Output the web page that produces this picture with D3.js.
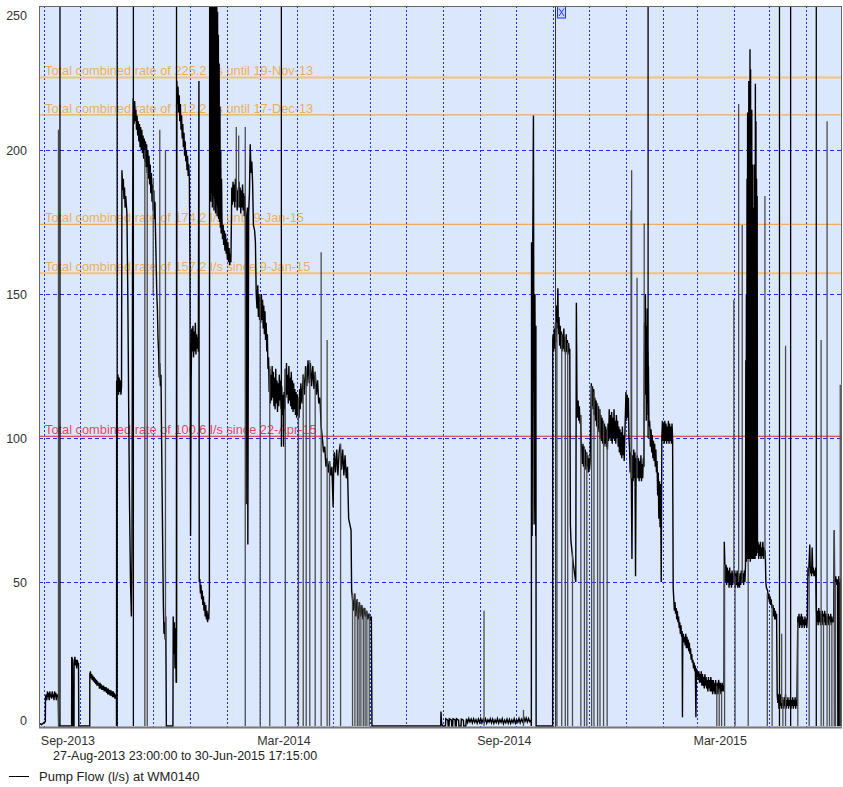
<!DOCTYPE html>
<html lang="en">
<head>
<meta charset="UTF-8">
<title>Pump Flow (l/s) at WM0140</title>
<script src="https://d3js.org/d3.v7.min.js"></script>
<style>
    body { margin: 0; background: #fff; }
    svg text { font-family: "Liberation Sans", Arial, sans-serif; font-size: 13px; }
    svg text.xlab, svg text.ylab, svg text.range { font-size: 12.5px; }
    svg text.rate-label { font-size: 12.8px; }
</style>
</head>
<body>
<div id="chart"></div>
<script>
// time span of the record and the text shown under the axis
var timeRange = ["2013-08-27 23:00", "2015-06-30 17:15"];
var rangeLabel = "27-Aug-2013 23:00:00 to 30-Jun-2015 17:15:00";
var seriesName = "Pump Flow (l/s) at WM0140";

var xTickDates = ["2013-09-01 00", "2014-03-01 00", "2014-09-01 00", "2015-03-01 00"];
var xTickLabels = ["Sep-2013", "Mar-2014", "Sep-2014", "Mar-2015"];
var yTicks = [0, 50, 100, 150, 200, 250];
var yGrid = [50, 100, 150, 200];

// consented rates
var rateValues = [225.2, 212.2, 174.2, 157.2, 100.6];
var rateLabels = [
    "Total combined rate of 225.2 l/s until 19-Nov-13",
    "Total combined rate of 212.2 l/s until 17-Dec-13",
    "Total combined rate of 174.2 l/s until 9-Jan-15",
    "Total combined rate of 157.2 l/s since 9-Jan-15",
    "Total combined rate of 100.6 l/s since 22-Apr-15"
];

var eventDates = ["2014-11-02 23"];

// pump flow (l/s)
var flow2013 = [
["2013-08-27 23",1],["2013-08-30 00",0.5],["2013-09-02 06",1.5],["2013-09-02 10",10],
["2013-09-03 00",11],["2013-09-03 12",9],["2013-09-04 00",12],["2013-09-04 12",10],["2013-09-05 00",11.5],["2013-09-05 12",9],
["2013-09-06 00",12],["2013-09-06 12",10],["2013-09-07 00",11],["2013-09-07 12",9.5],["2013-09-08 00",12],["2013-09-08 12",10],
["2013-09-09 00",11],["2013-09-09 12",9],["2013-09-10 00",12],["2013-09-10 12",10],["2013-09-11 00",11.5],["2013-09-11 12",9],
["2013-09-12 00",11],["2013-09-12 12",10],["2013-09-13 00",11],["2013-09-13 12",0],
["2013-09-24 06",0],["2013-09-24 08",24],["2013-09-25 00",23],["2013-09-25 08",0],["2013-09-26 06",0],["2013-09-26 08",22],
["2013-09-27 00",24],["2013-09-27 12",21],["2013-09-28 00",23],["2013-09-28 12",20],["2013-09-29 00",23],["2013-09-29 12",21],
["2013-09-30 00",22],["2013-09-30 06",0],
["2013-10-09 10",0],["2013-10-09 12",18],["2013-10-10 00",19],["2013-10-10 12",16.5],["2013-10-11 00",18],["2013-10-11 12",16],
["2013-10-12 00",17.5],["2013-10-12 12",15.5],["2013-10-13 00",17],["2013-10-13 12",15],["2013-10-14 00",16.5],["2013-10-14 12",14.5],
["2013-10-15 00",16],["2013-10-15 12",14],["2013-10-16 00",15.5],["2013-10-16 12",14],["2013-10-17 00",15],["2013-10-17 12",13],
["2013-10-18 00",15],["2013-10-18 12",13],["2013-10-19 00",14.5],["2013-10-19 12",12.5],["2013-10-20 00",14],["2013-10-20 12",12.5],
["2013-10-21 00",14],["2013-10-21 12",12],["2013-10-22 00",13.5],["2013-10-22 12",12],["2013-10-23 00",13.5],["2013-10-23 12",11.5],
["2013-10-24 00",13],["2013-10-24 12",11],["2013-10-25 00",13],["2013-10-25 12",11],["2013-10-26 00",12.5],["2013-10-26 12",10.5],
["2013-10-27 00",12.5],["2013-10-27 12",10.5],["2013-10-28 00",12],["2013-10-28 12",10],["2013-10-29 00",12],["2013-10-29 12",10],
["2013-10-30 00",11.5],["2013-10-30 12",9.5],["2013-10-31 00",11],["2013-10-31 18",10],["2013-10-31 20",0],["2013-10-31 22",120],
["2013-11-01 12",116],["2013-11-02 00",122],["2013-11-02 12",115],["2013-11-03 00",121],["2013-11-03 12",116],["2013-11-04 00",120],
["2013-11-04 12",115],["2013-11-05 00",118],["2013-11-05 08",193],["2013-11-06 00",186],["2013-11-06 12",190],["2013-11-07 00",183],
["2013-11-07 12",187],["2013-11-08 00",180],["2013-11-08 12",184],["2013-11-09 12",178],["2013-11-10 06",150],["2013-11-11 00",110],
["2013-11-11 18",75],["2013-11-12 12",50],["2013-11-13 06",38],["2013-11-13 18",60],["2013-11-14 06",170],["2013-11-14 18",218],
["2013-11-15 00",216],["2013-11-15 12",209],["2013-11-16 00",217],["2013-11-16 12",210],["2013-11-17 00",214],["2013-11-17 12",207],
["2013-11-18 00",212],["2013-11-18 12",205],["2013-11-19 00",210],["2013-11-19 12",203],["2013-11-20 00",209],["2013-11-20 12",201],
["2013-11-21 00",208],["2013-11-21 12",200],["2013-11-22 00",207],["2013-11-22 12",199],["2013-11-23 00",205],["2013-11-23 12",197],
["2013-11-24 00",204],["2013-11-24 12",196],["2013-11-25 00",203],["2013-11-25 12",194],["2013-11-26 00",202],["2013-11-26 12",192],
["2013-11-27 00",200],["2013-11-27 12",190],["2013-11-28 00",198],["2013-11-28 12",188],["2013-11-29 00",195],["2013-11-29 12",185],
["2013-11-30 00",192],["2013-11-30 12",182],["2013-12-01 00",188],["2013-12-01 12",179],["2013-12-02 00",186],["2013-12-02 12",176],
["2013-12-03 00",182],["2013-12-03 12",170],["2013-12-04 00",160],["2013-12-04 12",150],["2013-12-05 00",145],["2013-12-05 12",135],
["2013-12-06 00",130],["2013-12-06 12",121],["2013-12-07 00",126],["2013-12-07 12",118],["2013-12-08 00",122],["2013-12-08 12",100],
["2013-12-09 00",80],["2013-12-09 12",60],["2013-12-10 00",42],["2013-12-10 12",32],["2013-12-11 00",36],["2013-12-11 12",30],
["2013-12-12 00",38],["2013-12-12 12",0],["2013-12-18 00",0],["2013-12-18 06",38],["2013-12-18 18",25],["2013-12-19 06",36],
["2013-12-19 18",20],["2013-12-20 06",34],["2013-12-20 18",15],["2013-12-21 00",38],["2013-12-21 06",224],["2013-12-21 18",216],
["2013-12-22 06",222],["2013-12-22 18",213],["2013-12-23 06",219],["2013-12-23 18",210],["2013-12-24 06",216],["2013-12-24 18",207],
["2013-12-25 06",212],["2013-12-25 18",204],["2013-12-26 06",209],["2013-12-26 18",201],["2013-12-27 06",206],["2013-12-27 18",198],
["2013-12-28 06",203],["2013-12-28 18",196],["2013-12-29 06",200],["2013-12-29 18",193],["2013-12-30 06",198],["2013-12-30 18",191],
["2013-12-31 06",195],["2013-12-31 18",190]
];

var flow2014 = [
["2014-01-01 06",160],["2014-01-01 18",66],["2014-01-02 06",120],["2014-01-02 18",138],["2014-01-03 06",130],["2014-01-03 18",139],
["2014-01-04 06",128],["2014-01-04 18",137],["2014-01-05 06",130],["2014-01-05 18",140],["2014-01-06 06",129],["2014-01-06 18",136],
["2014-01-07 06",131],["2014-01-07 18",135],["2014-01-08 06",130],["2014-01-08 18",224],["2014-01-09 00",50],["2014-01-09 12",51],
["2014-01-10 00",46],["2014-01-10 12",49],["2014-01-11 00",44],["2014-01-11 12",47],["2014-01-12 00",42],["2014-01-12 12",45],
["2014-01-13 00",40],["2014-01-13 12",43],["2014-01-14 00",38],["2014-01-14 12",42],["2014-01-15 00",37],["2014-01-15 12",40],
["2014-01-16 00",36],["2014-01-16 12",39],["2014-01-17 00",37],["2014-01-17 12",45],
["2014-01-17 18",258],["2014-01-18 00",186],["2014-01-18 08",258],["2014-01-18 16",182],["2014-01-19 00",257],["2014-01-19 08",185],
["2014-01-19 16",258],["2014-01-20 00",180],["2014-01-20 08",256],["2014-01-20 16",184],["2014-01-21 00",257],["2014-01-21 08",179],
["2014-01-21 16",255],["2014-01-22 00",183],["2014-01-22 08",256],["2014-01-22 16",178],["2014-01-23 00",254],["2014-01-23 08",181],
["2014-01-23 16",252],["2014-01-24 00",177],["2014-01-24 08",248],["2014-01-24 16",180],["2014-01-25 00",240],["2014-01-25 08",176],
["2014-01-25 16",230],["2014-01-26 00",175],["2014-01-26 08",215],["2014-01-26 16",173],["2014-01-27 00",200],["2014-01-27 08",171],
["2014-01-27 16",190],["2014-01-28 00",176],["2014-01-28 12",169],["2014-01-29 00",174],["2014-01-29 12",167],["2014-01-30 00",172],
["2014-01-30 12",165],["2014-01-31 00",171],["2014-01-31 12",164],["2014-02-01 00",169],["2014-02-01 12",162],["2014-02-02 00",168],
["2014-02-02 12",161],["2014-02-03 00",166],["2014-02-03 12",160],["2014-02-04 00",164],["2014-02-04 12",161],
["2014-02-05 06",187],["2014-02-05 18",181],["2014-02-06 06",189],["2014-02-06 18",182],["2014-02-07 06",188],["2014-02-07 18",180],
["2014-02-08 06",190],["2014-02-08 18",182],["2014-02-09 06",187],["2014-02-09 18",179],["2014-02-10 06",186],["2014-02-10 18",181],
["2014-02-11 06",189],["2014-02-11 18",180],["2014-02-12 06",187],["2014-02-12 18",178],["2014-02-13 06",186],["2014-02-13 18",180],
["2014-02-14 06",188],["2014-02-14 18",179],["2014-02-15 06",185],["2014-02-15 18",177],["2014-02-16 06",184],["2014-02-16 18",176],
["2014-02-17 06",77],["2014-02-17 16",176],["2014-02-18 08",180],["2014-02-18 16",63],["2014-02-19 08",178],["2014-02-20 00",185],
["2014-02-20 16",202],["2014-02-21 08",192],["2014-02-22 00",196],["2014-02-22 16",188],["2014-02-23 08",174],["2014-02-24 08",172],
["2014-02-25 00",168],["2014-02-25 16",150],["2014-02-26 08",145],["2014-02-27 00",153],["2014-02-27 12",142],["2014-02-28 00",150],
["2014-02-28 12",141],["2014-03-01 00",149],["2014-03-01 12",140],["2014-03-02 00",150],["2014-03-02 12",141],["2014-03-03 00",148],
["2014-03-03 12",138],["2014-03-04 00",146],["2014-03-04 12",136],["2014-03-05 00",144],["2014-03-05 12",134],["2014-03-06 00",140],
["2014-03-06 12",130],["2014-03-07 00",136],["2014-03-07 12",124],["2014-03-08 00",128],["2014-03-08 12",116],["2014-03-09 00",124],
["2014-03-09 12",112],["2014-03-10 00",122],["2014-03-10 12",113],["2014-03-11 00",125],["2014-03-11 12",114],["2014-03-12 00",123],
["2014-03-12 12",111],["2014-03-13 00",121],["2014-03-13 12",110],["2014-03-14 00",124],["2014-03-14 12",112],["2014-03-15 00",120],
["2014-03-15 12",109],["2014-03-16 00",119],["2014-03-16 12",111],["2014-03-17 00",122],["2014-03-17 12",113],["2014-03-18 00",120],
["2014-03-18 12",110],["2014-03-19 00",118],["2014-03-19 12",108],["2014-03-20 00",115],["2014-03-20 12",97],["2014-03-21 00",116],
["2014-03-21 12",110],["2014-03-22 00",124],["2014-03-22 12",114],["2014-03-23 00",126],["2014-03-23 12",115],["2014-03-24 00",122],
["2014-03-24 12",112],["2014-03-25 00",125],["2014-03-25 12",113],["2014-03-26 00",121],["2014-03-26 12",111],["2014-03-27 00",123],
["2014-03-27 12",110],["2014-03-28 00",120],["2014-03-28 12",109],["2014-03-29 00",119],["2014-03-29 12",110],["2014-03-30 00",117],
["2014-03-30 12",108],["2014-03-31 00",116],["2014-03-31 12",107],["2014-04-01 00",115],["2014-04-01 12",108],["2014-04-02 00",114],
["2014-04-02 12",107],["2014-04-03 00",117],["2014-04-03 12",110],["2014-04-04 00",119],["2014-04-05 00",112],["2014-04-06 00",122],
["2014-04-07 00",115],["2014-04-08 00",125],["2014-04-09 00",118],["2014-04-10 00",127],["2014-04-11 00",119],["2014-04-12 00",126],
["2014-04-13 00",118],["2014-04-14 00",125],["2014-04-15 00",117],["2014-04-16 00",123],["2014-04-17 00",115],["2014-04-18 00",120],
["2014-04-19 00",112],["2014-04-20 00",114],["2014-04-21 00",104],["2014-04-22 00",100],["2014-04-23 00",95],["2014-04-24 00",97],
["2014-04-25 00",90],["2014-04-26 00",93],["2014-04-27 00",88],["2014-04-28 00",92],["2014-04-29 00",87],["2014-04-30 00",90],
["2014-05-01 00",76],["2014-05-01 12",90],["2014-05-02 00",95],["2014-05-03 00",88],["2014-05-04 00",96],["2014-05-05 00",87],
["2014-05-06 00",95],["2014-05-07 00",98],["2014-05-08 00",89],["2014-05-09 00",96],["2014-05-10 00",87],["2014-05-11 00",94],
["2014-05-12 00",86],["2014-05-13 00",90],["2014-05-14 00",72],["2014-05-15 00",70],["2014-05-16 00",68],["2014-05-16 12",47],
["2014-05-17 00",45],["2014-05-18 00",40],["2014-05-19 00",46],["2014-05-20 00",38],["2014-05-21 00",44],["2014-05-22 00",37],
["2014-05-23 00",43],["2014-05-24 00",38],["2014-05-25 00",42],["2014-05-26 00",37],["2014-05-27 00",41],["2014-05-28 00",38],
["2014-05-29 00",40],["2014-05-30 00",37],["2014-05-31 00",39],["2014-06-01 00",37],["2014-06-02 00",38],["2014-06-02 12",0]
];

var flowLow = [
["2014-07-30 00",0],["2014-07-30 06",5],["2014-07-30 18",1],["2014-07-31 12",0],["2014-08-03 00",0],["2014-08-03 06",2.5],
["2014-08-05 00",2],["2014-08-05 06",0],["2014-08-06 00",0],["2014-08-06 06",2.5],["2014-08-08 00",2],["2014-08-08 06",0],
["2014-08-09 00",0],["2014-08-09 06",2.5],["2014-08-11 00",2.2],["2014-08-11 06",0],["2014-08-12 00",0],["2014-08-12 06",2.5],
["2014-08-14 00",2],["2014-08-14 06",0],["2014-08-16 00",0],["2014-08-16 06",2.4],["2014-08-18 00",2],["2014-08-18 06",0],
["2014-08-20 00",0],["2014-08-20 12",2.5],["2014-08-21 12",1.2],["2014-08-22 12",2.6],["2014-08-23 12",1.4],["2014-08-24 12",2.4],
["2014-08-25 12",1.1],["2014-08-26 12",2.5],["2014-08-27 12",1.3],["2014-08-28 12",2.2],["2014-08-29 12",1.0],["2014-08-30 12",2.4],
["2014-08-31 12",1.2],["2014-09-01 12",2.6],["2014-09-02 12",1.1],["2014-09-03 12",2.3],["2014-09-04 12",1.3],["2014-09-05 12",2.5],
["2014-09-06 12",1.0],["2014-09-07 12",2.2],["2014-09-08 12",1.4],["2014-09-09 12",2.5],["2014-09-10 12",1.1],["2014-09-11 12",2.4],
["2014-09-12 12",0.9],["2014-09-13 12",2.1],["2014-09-14 12",1.2],["2014-09-15 12",2.6],["2014-09-16 12",1.0],["2014-09-17 12",2.2],
["2014-09-18 12",1.3],["2014-09-19 12",2.5],["2014-09-20 12",0.8],["2014-09-21 12",2.0],["2014-09-22 12",1.1],["2014-09-23 12",2.4],
["2014-09-24 12",1.0],["2014-09-25 12",2.3],["2014-09-26 12",0.9],["2014-09-27 12",2.1],["2014-09-28 12",1.2],["2014-09-29 12",2.5],
["2014-09-30 12",1.0],["2014-10-01 12",2.2],["2014-10-02 12",1.3],["2014-10-03 12",2.6],["2014-10-04 12",1.1],["2014-10-05 12",2.4],
["2014-10-06 12",1.5],["2014-10-07 12",3.0],["2014-10-08 12",1.6],["2014-10-09 12",2.8],["2014-10-10 12",1.4],["2014-10-11 12",2.6],
["2014-10-12 12",1.5],["2014-10-13 12",2.0],["2014-10-13 20",0]
];

var flowLate2014 = [
["2014-10-14 00",168],["2014-10-14 12",66],["2014-10-15 00",165],["2014-10-15 14",212],["2014-10-16 04",70],["2014-10-16 20",150],
["2014-10-17 12",66],["2014-10-17 16",139],["2014-10-17 20",0],["2014-10-31 16",0],["2014-10-31 18",134],
["2014-11-01 00",136],["2014-11-01 12",130],["2014-11-02 00",138],["2014-11-02 12",131],["2014-11-03 00",140],["2014-11-03 12",133],
["2014-11-04 00",146],["2014-11-04 12",138],["2014-11-05 00",152],["2014-11-05 12",136],["2014-11-06 00",142],["2014-11-06 12",132],
["2014-11-07 00",139],["2014-11-07 12",131],["2014-11-08 00",137],["2014-11-08 12",130],["2014-11-09 00",136],["2014-11-09 12",131],
["2014-11-10 00",138],["2014-11-10 12",130],["2014-11-11 00",135],["2014-11-11 12",129],["2014-11-12 00",136],["2014-11-12 12",130],
["2014-11-13 00",134],["2014-11-13 12",129],["2014-11-14 00",133],["2014-11-14 12",130],["2014-11-15 00",131],["2014-11-15 12",70],
["2014-11-16 00",64],["2014-11-17 00",60],["2014-11-18 00",56],["2014-11-19 00",53],["2014-11-20 00",50],["2014-11-20 12",147],
["2014-11-21 00",112],["2014-11-21 12",107],["2014-11-22 00",113],["2014-11-22 12",106],["2014-11-23 00",111],["2014-11-23 12",105],
["2014-11-24 00",108],["2014-11-24 12",98],["2014-11-25 00",96],["2014-11-25 12",91],["2014-11-26 00",98],["2014-11-26 12",90],
["2014-11-27 00",97],["2014-11-27 12",91],["2014-11-28 00",96],["2014-11-28 12",89],["2014-11-29 00",95],["2014-11-29 12",90],
["2014-11-30 00",94],["2014-11-30 12",88],["2014-12-01 00",93],["2014-12-01 12",89],["2014-12-02 00",92],["2014-12-03 00",119],
["2014-12-03 12",111],["2014-12-04 00",118],["2014-12-04 12",110],["2014-12-05 00",117],["2014-12-05 12",108],["2014-12-06 00",114],
["2014-12-06 12",106],["2014-12-07 00",113],["2014-12-07 12",104],["2014-12-08 00",112],["2014-12-08 12",103],["2014-12-09 00",111],
["2014-12-09 12",102],["2014-12-10 00",110],["2014-12-10 12",100],["2014-12-11 00",108],["2014-12-11 12",99],["2014-12-12 00",107],
["2014-12-12 12",98],["2014-12-13 00",106],["2014-12-13 12",97],["2014-12-14 00",105],["2014-12-14 12",98],["2014-12-15 00",104],
["2014-12-15 12",97],["2014-12-16 00",103],["2014-12-16 12",96],["2014-12-17 00",105],["2014-12-17 12",99],["2014-12-18 00",110],
["2014-12-18 12",100],["2014-12-19 00",108],["2014-12-19 12",99],["2014-12-20 00",109],["2014-12-20 12",98],["2014-12-21 00",107],
["2014-12-21 12",100],["2014-12-22 00",110],["2014-12-22 12",99],["2014-12-23 00",106],["2014-12-23 12",98],["2014-12-24 00",108],
["2014-12-24 12",100],["2014-12-25 00",106],["2014-12-25 12",97],["2014-12-26 00",104],["2014-12-26 12",95],["2014-12-27 00",103],
["2014-12-27 12",94],["2014-12-28 00",102],["2014-12-28 12",93],["2014-12-29 00",104],["2014-12-29 12",94],["2014-12-30 00",101],
["2014-12-30 12",92]
];

var flow2015 = [
["2015-01-01 00",116],["2015-01-01 12",106],["2015-01-02 00",115],["2015-01-02 12",107],["2015-01-03 00",114],["2015-01-03 12",100],
["2015-01-04 00",96],["2015-01-04 12",88],["2015-01-05 00",95],["2015-01-05 12",86],["2015-01-06 00",58],["2015-01-06 12",94],
["2015-01-07 00",85],["2015-01-07 12",96],["2015-01-08 00",86],["2015-01-08 12",95],["2015-01-09 00",52],["2015-01-09 12",93],
["2015-01-10 00",87],["2015-01-10 12",94],["2015-01-11 00",86],["2015-01-11 12",93],["2015-01-12 00",85],["2015-01-12 12",92],
["2015-01-13 00",86],["2015-01-13 12",94],["2015-01-14 00",85],["2015-01-14 12",91],["2015-01-15 00",86],["2015-01-15 12",93],
["2015-01-16 00",90],["2015-01-16 12",140],["2015-01-17 00",118],["2015-01-17 06",150],["2015-01-17 12",115],["2015-01-17 18",139],
["2015-01-18 00",106],["2015-01-18 06",135],["2015-01-18 12",112],["2015-01-18 18",145],["2015-01-19 00",116],["2015-01-19 06",130],
["2015-01-19 12",108],["2015-01-19 18",125],["2015-01-20 06",104],["2015-01-20 18",106],["2015-01-21 00",104],["2015-01-21 12",97],
["2015-01-22 00",103],["2015-01-22 12",95],["2015-01-23 00",101],["2015-01-23 12",93],["2015-01-24 00",99],["2015-01-24 12",92],
["2015-01-25 00",98],["2015-01-25 12",90],["2015-01-26 00",96],["2015-01-26 12",88],["2015-01-27 00",92],["2015-01-27 12",80],
["2015-01-28 00",88],["2015-01-28 12",72],["2015-01-29 00",85],["2015-01-29 12",69],["2015-01-30 00",84],["2015-01-30 12",50],
["2015-01-31 00",100],["2015-01-31 12",106],["2015-02-01 00",99],["2015-02-01 12",105],["2015-02-02 00",98],["2015-02-02 12",106],
["2015-02-03 00",99],["2015-02-03 12",105],["2015-02-04 00",98],["2015-02-04 12",104],["2015-02-05 00",99],["2015-02-05 12",106],
["2015-02-06 00",98],["2015-02-06 12",105],["2015-02-07 00",99],["2015-02-07 12",104],["2015-02-08 00",98],["2015-02-08 12",105],
["2015-02-09 00",100],["2015-02-09 12",48],["2015-02-10 00",44],["2015-02-10 12",40],["2015-02-11 00",43],["2015-02-11 12",39],
["2015-02-12 00",41],["2015-02-12 12",37],["2015-02-13 00",40],["2015-02-13 12",36],["2015-02-14 00",38],["2015-02-14 12",34],
["2015-02-15 00",36],["2015-02-15 12",32],["2015-02-16 00",35],["2015-02-16 12",31],["2015-02-17 00",33],["2015-02-17 06",3],
["2015-02-17 12",30],["2015-02-18 00",32],["2015-02-18 12",29],["2015-02-19 00",31],["2015-02-19 12",28],["2015-02-20 00",32],
["2015-02-20 12",27],["2015-02-21 00",31],["2015-02-21 12",27],["2015-02-22 00",30],["2015-02-22 12",26],["2015-02-23 00",29],
["2015-02-23 12",25],["2015-02-24 00",27],["2015-02-24 12",23],["2015-02-25 00",25],["2015-02-25 12",22],["2015-02-26 00",23],
["2015-02-26 12",20],["2015-02-27 00",22],["2015-02-27 12",19],["2015-02-28 00",21],["2015-02-28 12",3],["2015-03-01 00",20],
["2015-03-01 12",17],["2015-03-02 00",19],["2015-03-02 12",16],["2015-03-03 00",19],["2015-03-03 12",15],["2015-03-04 00",18],
["2015-03-04 12",15],["2015-03-05 00",19],["2015-03-05 12",14],["2015-03-06 00",18],["2015-03-06 12",14],["2015-03-07 00",17],
["2015-03-07 12",13],["2015-03-08 00",18],["2015-03-08 12",14],["2015-03-09 00",17],["2015-03-09 12",13],["2015-03-10 00",16],
["2015-03-10 12",12],["2015-03-11 00",17],["2015-03-11 12",13],["2015-03-12 00",16],["2015-03-12 12",12],["2015-03-13 00",17],
["2015-03-13 12",12],["2015-03-14 00",16],["2015-03-14 12",11],["2015-03-15 00",16],["2015-03-15 12",12],["2015-03-16 00",15],
["2015-03-16 12",11],["2015-03-17 00",16],["2015-03-17 12",11],["2015-03-18 12",15],["2015-03-19 00",11],["2015-03-19 12",16],
["2015-03-20 12",12],["2015-03-21 00",15],["2015-03-21 12",11],["2015-03-22 12",15],["2015-03-23 00",12],["2015-03-23 12",14],
["2015-03-24 00",12],["2015-03-24 06",64],["2015-03-24 18",55],["2015-03-25 06",50],["2015-03-25 18",56],["2015-03-26 06",49],
["2015-03-26 18",55],["2015-03-27 06",50],["2015-03-27 18",54],["2015-03-28 06",48],["2015-03-28 18",55],["2015-03-29 06",49],
["2015-03-29 18",53],["2015-03-30 06",48],["2015-03-30 18",54],["2015-03-31 06",49],["2015-03-31 18",53],["2015-04-01 12",50],
["2015-04-02 00",54],["2015-04-02 12",48],["2015-04-03 00",53],["2015-04-03 12",49],["2015-04-04 00",54],["2015-04-04 12",48],
["2015-04-05 12",52],["2015-04-06 00",48],["2015-04-06 12",53],["2015-04-07 00",49],["2015-04-07 12",54],["2015-04-08 12",50],
["2015-04-09 00",53],["2015-04-09 12",49],["2015-04-10 00",54],["2015-04-10 12",50],["2015-04-11 00",56],
["2015-04-11 06",127],["2015-04-11 12",58],["2015-04-11 18",150],["2015-04-12 00",57],["2015-04-12 06",190],["2015-04-12 12",59],
["2015-04-12 18",213],["2015-04-13 00",58],["2015-04-13 06",205],["2015-04-13 12",60],["2015-04-13 18",224],["2015-04-14 00",58],
["2015-04-14 06",218],["2015-04-14 12",59],["2015-04-14 18",235],["2015-04-15 00",57],["2015-04-15 06",228],["2015-04-15 12",60],
["2015-04-15 18",200],["2015-04-16 00",58],["2015-04-16 06",214],["2015-04-16 12",59],["2015-04-16 18",195],["2015-04-17 00",58],
["2015-04-17 06",180],["2015-04-17 12",60],["2015-04-17 18",170],["2015-04-18 00",58],["2015-04-18 06",195],["2015-04-18 12",59],
["2015-04-18 18",185],["2015-04-19 00",58],["2015-04-19 06",223],["2015-04-19 12",60],["2015-04-19 18",210],["2015-04-20 00",59],
["2015-04-20 06",190],["2015-04-20 12",60],["2015-04-20 18",184],["2015-04-21 00",62],
["2015-04-21 12",64],["2015-04-22 00",58],["2015-04-22 12",63],["2015-04-23 00",59],["2015-04-23 12",64],["2015-04-24 00",58],
["2015-04-24 12",62],["2015-04-25 00",59],["2015-04-25 12",64],["2015-04-26 00",58],["2015-04-26 12",62],["2015-04-27 00",59],
["2015-04-27 12",61],["2015-04-28 00",50],["2015-04-28 12",48],["2015-04-29 12",47],["2015-04-30 00",44],["2015-04-30 12",46],
["2015-05-01 00",43],["2015-05-01 12",45],["2015-05-02 00",42],["2015-05-02 12",44],["2015-05-03 00",41],["2015-05-04 00",42],
["2015-05-04 12",38],["2015-05-05 00",41],["2015-05-05 12",37],["2015-05-06 00",40],["2015-05-06 12",37],["2015-05-07 00",39],
["2015-05-07 12",11],["2015-05-08 00",8],["2015-05-08 12",11],["2015-05-09 00",6],["2015-05-09 12",10],["2015-05-10 00",7],
["2015-05-10 12",11],["2015-05-11 00",6],["2015-05-11 12",10],["2015-05-12 00",7],["2015-05-12 12",9],["2015-05-13 00",6],
["2015-05-13 12",10],["2015-05-14 00",7],["2015-05-14 12",11],["2015-05-15 00",6],["2015-05-15 12",9],["2015-05-16 00",7],
["2015-05-16 12",10],["2015-05-17 00",6],["2015-05-17 12",9],["2015-05-18 00",7],["2015-05-18 12",10],["2015-05-19 00",6],
["2015-05-19 12",9],["2015-05-20 00",7],["2015-05-20 12",10],["2015-05-21 00",6],["2015-05-21 12",9],["2015-05-22 00",7],
["2015-05-22 12",10],["2015-05-23 00",6],["2015-05-23 12",9],["2015-05-24 00",7],["2015-05-24 18",38],["2015-05-25 06",35],
["2015-05-25 18",39],["2015-05-26 06",34],["2015-05-26 18",38],["2015-05-27 06",35],["2015-05-27 18",39],["2015-05-28 06",34],
["2015-05-28 18",38],["2015-05-29 06",35],["2015-05-29 18",37],["2015-05-30 06",34],["2015-05-30 18",38],["2015-05-31 06",35],
["2015-05-31 18",37],["2015-06-01 06",34],["2015-06-01 18",38],["2015-06-02 06",55],["2015-06-02 18",52],["2015-06-03 18",63],
["2015-06-04 06",53],["2015-06-04 18",55],["2015-06-05 06",52],["2015-06-05 18",62],["2015-06-06 06",53],["2015-06-06 18",55],
["2015-06-07 06",52],["2015-06-07 18",54],["2015-06-08 06",52],["2015-06-08 18",55],["2015-06-09 06",41],["2015-06-09 18",36],
["2015-06-10 06",40],["2015-06-10 18",35],["2015-06-11 06",41],["2015-06-11 18",36],["2015-06-12 06",40],["2015-06-12 18",35],
["2015-06-13 06",39],["2015-06-13 18",36],["2015-06-14 06",40],["2015-06-14 18",35],["2015-06-15 06",39],["2015-06-15 18",36],
["2015-06-16 06",40],["2015-06-16 18",35],["2015-06-17 06",39],["2015-06-17 18",35],["2015-06-18 06",38],["2015-06-18 18",36],
["2015-06-19 06",39],["2015-06-19 18",35],["2015-06-20 06",38],["2015-06-20 18",36],["2015-06-21 06",39],["2015-06-21 18",35],
["2015-06-22 06",38],["2015-06-22 18",36],["2015-06-23 06",37],["2015-06-23 18",36],["2015-06-24 06",68],["2015-06-24 12",52],
["2015-06-25 00",48],["2015-06-25 12",52],["2015-06-26 00",49],["2015-06-26 12",51],["2015-06-27 00",50],["2015-06-27 06",0],
["2015-06-27 12",50],["2015-06-27 18",2],["2015-06-28 00",52],["2015-06-28 06",0],["2015-06-28 12",49],["2015-06-28 18",5],
["2015-06-29 00",50],["2015-06-29 06",0],["2015-06-29 12",51],["2015-06-29 18",2],["2015-06-30 00",48],["2015-06-30 06",0],
["2015-06-30 12",50],["2015-06-30 17",49]
];

// short excursions of the trace: [time, low, high]
var spikes = [
["2013-09-13 06",0,207],["2013-09-14 12",0,260],["2013-11-01 08",0,260],["2013-11-14 22",0,260],
["2013-11-24 12",0,200],["2013-11-26 12",0,194],["2013-12-01 12",150,190],["2013-12-07 00",120,207],["2013-12-11 18",30,200],
["2013-12-21 00",15,260],["2014-02-09 00",180,208],["2014-02-11 00",180,205],["2014-02-16 12",0,208],
["2014-03-01 00",0,150],["2014-03-09 00",0,125],["2014-03-18 17",97,260],["2014-03-22 00",0,124],["2014-04-02 00",0,114],
["2014-04-06 00",0,122],["2014-04-08 12",0,124],["2014-04-11 12",0,127],["2014-04-16 00",0,123],["2014-04-21 00",0,164.5],
["2014-04-26 00",0,134],["2014-04-28 00",0,92],["2014-05-07 06",0,98],["2014-05-17 06",0,46],["2014-05-19 06",0,46],
["2014-05-21 06",0,44],["2014-05-22 18",0,43],["2014-05-24 06",0,42],["2014-05-26 06",0,40],["2014-05-27 18",0,41],
["2014-05-29 06",0,40],["2014-05-31 06",0,39],["2014-09-04 06",0,40],["2014-10-07 06",0,5.6],
["2014-11-03 06",0,138],["2014-11-04 06",0,140],["2014-11-08 06",0,136],["2014-11-11 06",0,135],["2014-11-13 06",0,133],
["2014-11-17 06",0,60],["2014-11-24 06",0,108],["2014-11-27 06",0,97],["2014-11-29 06",0,95],["2014-12-03 06",0,118],
["2014-12-05 06",0,116],["2014-12-08 06",0,112],["2014-12-10 06",0,110],["2014-12-13 06",0,106],["2014-12-16 06",0,103],
["2015-01-05 06",86,179],["2015-01-05 18",86,193],["2015-01-10 06",87,155.6],["2015-01-16 06",90,174.5],["2015-01-19 12",100,260],
["2015-03-18 00",0,14],["2015-03-20 00",0,13],["2015-03-22 00",0,12],["2015-03-24 12",0,56],
["2015-04-01 06",50,148],["2015-04-02 06",0,52],["2015-04-05 06",50,216],["2015-04-08 06",50,174],["2015-04-13 06",0,58],
["2015-04-27 06",58,184],["2015-04-29 06",0,46],["2015-05-03 06",0,42],["2015-05-09 10",0,260],["2015-05-11 06",8,32],
["2015-05-12 06",0,10],["2015-05-14 12",0,132],["2015-05-18 18",0,260],["2015-05-24 18",0,36],["2015-06-03 06",0,55],
["2015-06-09 05",0,260],["2015-06-13 06",0,134],["2015-06-15 06",0,38],["2015-06-18 06",0,210],["2015-06-20 06",0,37],
["2015-06-22 06",0,36],["2015-06-24 06",0,68],["2015-06-25 06",0,50],["2015-06-29 06",0,118.5]
];

var parseHour = d3.timeParse("%Y-%m-%d %H");
var parseFull = d3.timeParse("%Y-%m-%d %H:%M");

function drawChart() {
    var plot = { left: 39, right: 842, top: 6, bottom: 727 };

    var svg = d3.select("#chart")
        .append("svg")
        .attr("width", 843)
        .attr("height", 787);

    var x = d3.scaleTime()
        .domain(timeRange.map(parseFull))
        .range([plot.left, plot.right]);

    var y = d3.scaleLinear()
        .domain([0, 250])
        .range([726, 6]);

    svg.append("defs").append("clipPath")
        .attr("id", "plot-clip")
        .append("rect")
        .attr("x", plot.left)
        .attr("y", plot.top)
        .attr("width", plot.right - plot.left)
        .attr("height", plot.bottom - plot.top);

    svg.append("rect")
        .attr("x", plot.left)
        .attr("y", plot.top)
        .attr("width", plot.right - plot.left)
        .attr("height", plot.bottom - plot.top)
        .attr("fill", "#dbe7fc");

    var g = svg.append("g").attr("clip-path", "url(#plot-clip)");

    // monthly grid lines
    var months = d3.timeMonth.range(d3.timeMonth.ceil(x.domain()[0]), x.domain()[1]);
    g.selectAll(".vgrid")
        .data(months)
        .enter().append("line")
        .attr("class", "vgrid")
        .attr("x1", d => Math.round(x(d)) + 0.5)
        .attr("x2", d => Math.round(x(d)) + 0.5)
        .attr("y1", plot.top)
        .attr("y2", plot.bottom)
        .attr("stroke", "#1c2cff")
        .attr("stroke-width", 1)
        .attr("stroke-dasharray", "2,2");

    g.selectAll(".hgrid")
        .data(yGrid)
        .enter().append("line")
        .attr("class", "hgrid")
        .attr("x1", plot.left)
        .attr("x2", plot.right)
        .attr("y1", d => Math.round(y(d)) + 0.5)
        .attr("y2", d => Math.round(y(d)) + 0.5)
        .attr("stroke", "#1c2cff")
        .attr("stroke-width", 1)
        .attr("stroke-dasharray", "4,3");

    // rate lines
    var rateStroke = ["#f3c375", "#efa232", "#efa232", "#f3c375", "#e8203c"];
    var rateWidth = [2, 1, 1, 2, 1];
    var rateText = ["#f1a430", "#f1a430", "#f1a430", "#f1a430", "#f0203c"];

    g.selectAll(".rate")
        .data(rateValues)
        .enter().append("line")
        .attr("class", "rate")
        .attr("x1", plot.left)
        .attr("x2", plot.right)
        .attr("y1", d => y(d))
        .attr("y2", d => y(d))
        .attr("stroke", (d, i) => rateStroke[i])
        .attr("stroke-width", (d, i) => rateWidth[i]);

    g.selectAll(".rate-label")
        .data(rateValues)
        .enter().append("text")
        .attr("class", "rate-label")
        .attr("x", plot.left + 6)
        .attr("y", d => y(d) - 2)
        .attr("fill", (d, i) => rateText[i])
        .attr("fill-opacity", 0.85)
        .text((d, i) => rateLabels[i]);

    // pump flow trace
    var flow = [].concat(flow2013, flow2014, flowLow, flowLate2014, flow2015)
        .map(d => ({ t: parseHour(d[0]), v: d[1] }));

    var line = d3.line()
        .x(d => x(d.t))
        .y(d => y(d.v));

    g.append("path")
        .datum(flow)
        .attr("fill", "none")
        .attr("stroke", "#000")
        .attr("stroke-width", 1.4)
        .attr("d", line);

    g.selectAll(".spike")
        .data(spikes)
        .enter().append("line")
        .attr("class", "spike")
        .attr("x1", d => x(parseHour(d[0])))
        .attr("x2", d => x(parseHour(d[0])))
        .attr("y1", d => y(d[1]))
        .attr("y2", d => y(d[2]))
        .attr("stroke", d => d[2] >= 250 ? "#000" : "#4c4c4c")
        .attr("stroke-width", 1.3);

    // event marker
    eventDates.forEach(function (s) {
        var ex = Math.round(x(parseHour(s))) + 0.5;
        g.append("line")
            .attr("x1", ex).attr("x2", ex)
            .attr("y1", plot.top).attr("y2", plot.bottom)
            .attr("stroke", "#333")
            .attr("stroke-width", 1);
        var mk = svg.append("g").attr("transform", "translate(" + (ex + 1.5) + "," + plot.top + ")");
        mk.append("rect")
            .attr("x", 0.5).attr("y", 0.5)
            .attr("width", 8).attr("height", 11.5)
            .attr("fill", "#c9d7ff")
            .attr("stroke", "#1f33ff");
        mk.append("path")
            .attr("d", "M2,2.5L7,10M7,2.5L2,10")
            .attr("stroke", "#1f33ff")
            .attr("fill", "none");
    });

    // frame
    svg.append("rect")
        .attr("x", plot.left + 0.5)
        .attr("y", plot.top + 0.5)
        .attr("width", plot.right - plot.left - 1)
        .attr("height", plot.bottom - plot.top)
        .attr("fill", "none")
        .attr("stroke", "#666");

    svg.append("line")
        .attr("x1", plot.left)
        .attr("x2", plot.right)
        .attr("y1", plot.bottom + 0.5)
        .attr("y2", plot.bottom + 0.5)
        .attr("stroke", "#777")
        .attr("stroke-width", 2);

    // axis labels
    svg.selectAll(".ylab")
        .data(yTicks)
        .enter().append("text")
        .attr("class", "ylab")
        .attr("x", 27)
        .attr("y", d => Math.min(Math.max(y(d) + 4.5, 19.5), 724.5))
        .attr("text-anchor", "end")
        .attr("fill", "#333")
        .text(d => d);

    svg.selectAll(".xlab")
        .data(xTickDates)
        .enter().append("text")
        .attr("class", "xlab")
        .attr("x", d => x(parseHour(d)) - 3)
        .attr("y", 745)
        .attr("fill", "#333")
        .text((d, i) => xTickLabels[i]);

    svg.append("text")
        .attr("class", "range")
        .attr("x", 53)
        .attr("y", 760)
        .attr("fill", "#222")
        .text(rangeLabel);

    // legend
    svg.append("line")
        .attr("x1", 9).attr("x2", 29)
        .attr("y1", 776.5).attr("y2", 776.5)
        .attr("stroke", "#000");

    svg.append("text")
        .attr("x", 39)
        .attr("y", 781)
        .attr("fill", "#222")
        .text(seriesName);
}

drawChart();
</script>
</body>
</html>
